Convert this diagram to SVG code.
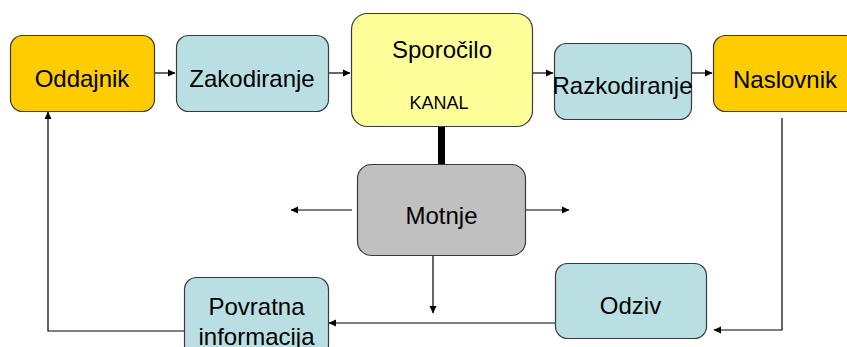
<svg xmlns="http://www.w3.org/2000/svg" width="847" height="347" viewBox="0 0 847 347">
<defs>
<style>
.box{stroke:#3a3a3a;stroke-width:1.2}
.orange{fill:#FFCC00}
.blue{fill:#B9DFE3}
.yellow{fill:#FFFF99}
.gray{fill:#C0C0C0}
.t{font-family:"Liberation Sans",Arial,sans-serif;font-size:24px;fill:#000;text-anchor:middle}
.s{font-size:18px}
.c{fill:none;stroke:#000;stroke-width:1.2}
</style>
<marker id="ah" markerWidth="8" markerHeight="8" refX="7" refY="4" orient="auto" markerUnits="userSpaceOnUse">
<path d="M0,0.5 L7.5,4 L0,7.5 Z" fill="#000"/>
</marker>
</defs>
<rect width="847" height="347" fill="#fff"/>
<g id="connectors">
<line class="c" x1="154" y1="73" x2="175" y2="73" marker-end="url(#ah)"/>
<line class="c" x1="328" y1="73" x2="350" y2="73" marker-end="url(#ah)"/>
<line class="c" x1="532" y1="73" x2="553" y2="73" marker-end="url(#ah)"/>
<line class="c" x1="691" y1="73" x2="712" y2="73" marker-end="url(#ah)"/>
<rect x="438" y="126" width="7" height="39" fill="#000"/>
<line class="c" x1="352" y1="210" x2="291" y2="210" marker-end="url(#ah)"/>
<line class="c" x1="525" y1="210" x2="569" y2="210" marker-end="url(#ah)"/>
<line class="c" x1="433" y1="255" x2="433" y2="313" marker-end="url(#ah)"/>
<polyline class="c" points="782,118 782,330 714,330" marker-end="url(#ah)"/>
<line class="c" x1="555" y1="323" x2="329" y2="323" marker-end="url(#ah)"/>
<polyline class="c" points="184,331 48,331 48,112" marker-end="url(#ah)"/>
</g>
<g id="oddajnik">
<rect class="box orange" x="10.5" y="35.5" width="144" height="76" rx="12"/>
<text class="t" x="82" y="87">Oddajnik</text>
</g>
<g id="zakodiranje">
<rect class="box blue" x="176.5" y="35.5" width="152" height="76" rx="12"/>
<text class="t" x="252" y="87">Zakodiranje</text>
</g>
<g id="sporocilo">
<rect class="box yellow" x="351.5" y="13.5" width="181" height="113" rx="16"/>
<text class="t" x="442" y="58">Sporočilo</text>
<text class="t s" x="439" y="109">KANAL</text>
</g>
<g id="razkodiranje">
<rect class="box blue" x="554.5" y="43.5" width="137" height="76" rx="12"/>
<text class="t" x="622.5" y="94">Razkodiranje</text>
</g>
<g id="naslovnik">
<rect class="box orange" x="713.5" y="35.5" width="144" height="76" rx="12"/>
<text class="t" x="785" y="88">Naslovnik</text>
</g>
<g id="motnje">
<rect class="box gray" x="357.5" y="164.5" width="168" height="91" rx="14"/>
<text class="t" x="441.5" y="224">Motnje</text>
</g>
<g id="odziv">
<rect class="box blue" x="555.5" y="263.5" width="151" height="75" rx="12"/>
<text class="t" x="630.5" y="314">Odziv</text>
</g>
<g id="povratna">
<rect class="box blue" x="184.5" y="277.5" width="144" height="80" rx="12"/>
<text class="t" x="256.5" y="315">Povratna</text>
<text class="t" x="256.5" y="345">informacija</text>
</g>
</svg>
